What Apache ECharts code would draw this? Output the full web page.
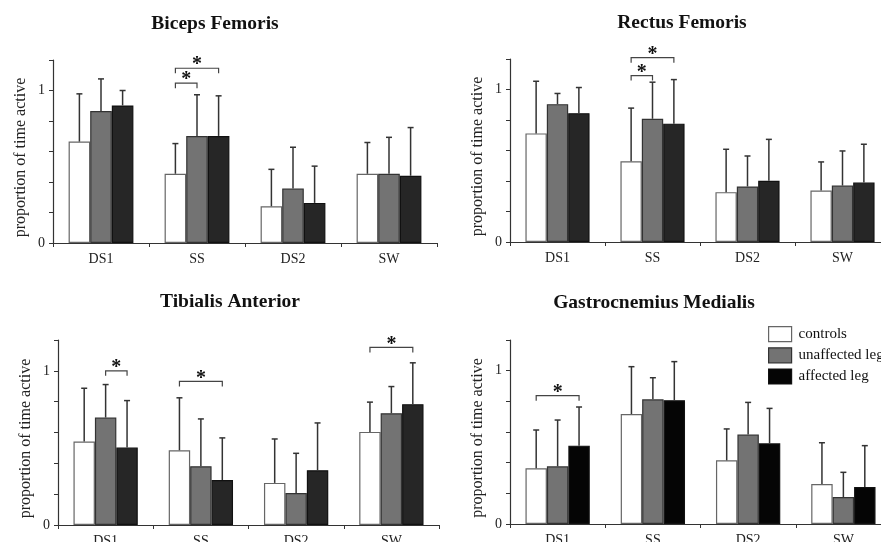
<!DOCTYPE html>
<html><head><meta charset="utf-8">
<script src="https://cdn.jsdelivr.net/npm/echarts@6/dist/echarts.min.js"></script>
<style>html,body{margin:0;padding:0;background:#fff}#c{width:881px;height:542px}</style>
</head><body><div id="c"></div>
<script>
const categories = ['DS1', 'SS', 'DS2', 'SW'];
const groupNames = ['controls', 'unaffected leg', 'affected leg'];
const panelTitles = ['Biceps Femoris', 'Rectus Femoris', 'Tibialis Anterior', 'Gastrocnemius Medialis'];
const yAxisTitle = 'proportion of time active';
const yTickLabels = ['0', '1'];

// Biceps Femoris: means and upper SD
const bfControls = [0.665, 0.454, 0.241, 0.454];
const bfUnaffected = [0.865, 0.702, 0.357, 0.454];
const bfAffected = [0.902, 0.702, 0.263, 0.441];
const bfControlsSD = [0.313, 0.198, 0.242, 0.205];
const bfUnaffectedSD = [0.211, 0.270, 0.271, 0.239];
const bfAffectedSD = [0.098, 0.263, 0.241, 0.316];
// Rectus Femoris
const rfControls = [0.712, 0.529, 0.327, 0.338];
const rfUnaffected = [0.904, 0.808, 0.364, 0.370];
const rfAffected = [0.845, 0.776, 0.401, 0.390];
const rfControlsSD = [0.342, 0.349, 0.281, 0.187];
const rfUnaffectedSD = [0.070, 0.240, 0.200, 0.227];
const rfAffectedSD = [0.168, 0.289, 0.272, 0.251];
// Tibialis Anterior
const taControls = [0.541, 0.485, 0.273, 0.604];
const taUnaffected = [0.697, 0.381, 0.208, 0.725];
const taAffected = [0.502, 0.292, 0.355, 0.784];
const taControlsSD = [0.346, 0.340, 0.285, 0.193];
const taUnaffectedSD = [0.214, 0.307, 0.257, 0.173];
const taAffectedSD = [0.305, 0.273, 0.307, 0.268];
// Gastrocnemius Medialis
const gmControls = [0.363, 0.717, 0.415, 0.261];
const gmUnaffected = [0.376, 0.813, 0.583, 0.176];
const gmAffected = [0.511, 0.807, 0.526, 0.241];
const gmControlsSD = [0.250, 0.309, 0.205, 0.269];
const gmUnaffectedSD = [0.302, 0.141, 0.210, 0.161];
const gmAffectedSD = [0.252, 0.252, 0.228, 0.270];

// significance brackets: [category index, from group, to group, bracket height]
const bfBrackets = [[1, 0, 1, 1.048], [1, 0, 2, 1.146]];
const rfBrackets = [[1, 0, 1, 1.091], [1, 0, 2, 1.209]];
const taBrackets = [[0, 1, 2, 1.0], [1, 0, 2, 0.931], [3, 0, 2, 1.152]];
const gmBrackets = [[0, 0, 2, 0.837]];

const panels = [
  {means: [bfControls, bfUnaffected, bfAffected], sds: [bfControlsSD, bfUnaffectedSD, bfAffectedSD], brackets: bfBrackets},
  {means: [rfControls, rfUnaffected, rfAffected], sds: [rfControlsSD, rfUnaffectedSD, rfAffectedSD], brackets: rfBrackets},
  {means: [taControls, taUnaffected, taAffected], sds: [taControlsSD, taUnaffectedSD, taAffectedSD], brackets: taBrackets},
  {means: [gmControls, gmUnaffected, gmAffected], sds: [gmControlsSD, gmUnaffectedSD, gmAffectedSD], brackets: gmBrackets}
];

const FONT = 'Liberation Serif';
const grids = [
  {left: 53, top: 60, width: 384, height: 183},
  {left: 510, top: 59, width: 380, height: 183},
  {left: 58, top: 340, width: 381, height: 185},
  {left: 510, top: 340, width: 381, height: 184}
];
const titlePos = [[215, 14], [682, 13], [230, 292], [654, 293]];
const barColors = [
  ['#ffffff', '#737373', '#262626'],
  ['#ffffff', '#737373', '#262626'],
  ['#ffffff', '#737373', '#262626'],
  ['#ffffff', '#737373', '#050505']
];
const barBorders = ['#666666', '#333333', '#111111'];
const BAR_FRAC = 0.225;

const option = {
  backgroundColor: '#fff',
  animation: false,
  title: panelTitles.map((t, i) => ({
    text: t, left: titlePos[i][0], top: titlePos[i][1], textAlign: 'center', padding: 0,
    textStyle: {fontFamily: FONT, fontWeight: 'bold', fontSize: 19.5, color: '#111'}
  })),
  grid: grids.map(g => Object.assign({containLabel: false, outerBoundsMode: 'none'}, g)),
  legend: {
    orient: 'vertical', left: 768, top: 326, itemWidth: 23, itemHeight: 15, itemGap: 5, padding: 0,
    icon: 'rect',
    textStyle: {fontFamily: FONT, fontSize: 15, color: '#111', padding: [0, 0, 0, 2]},
    data: groupNames.map((n, k) => ({name: n, itemStyle: {color: barColors[3][k], borderColor: barBorders[k], borderWidth: 1.2}}))
  },
  xAxis: grids.map((g, i) => ({
    type: 'category', gridIndex: i, data: categories,
    axisLine: {lineStyle: {color: '#333', width: 1.2}},
    axisTick: {show: true, length: 4, lineStyle: {color: '#333'}},
    axisLabel: {fontFamily: FONT, fontSize: 14, color: '#222', margin: 9}
  })),
  yAxis: grids.map((g, i) => ({
    type: 'value', gridIndex: i, min: 0, max: 1.2, interval: 0.2,
    name: yAxisTitle, nameLocation: 'middle', nameGap: 24,
    nameTextStyle: {fontFamily: FONT, fontSize: 16, color: '#222', padding: [0, 12, 0, 0]},
    splitLine: {show: false},
    axisLine: {show: true, lineStyle: {color: '#333', width: 1.2}},
    axisTick: {show: true, length: 4, lineStyle: {color: '#333'}},
    axisLabel: {fontFamily: FONT, fontSize: 14, color: '#222', margin: 8,
      formatter: v => (Math.abs(v) < 1e-9 ? yTickLabels[0] : (Math.abs(v - 1) < 1e-9 ? yTickLabels[1] : ''))}
  })),
  series: []
};

panels.forEach((p, i) => {
  for (let k = 0; k < 3; k++) {
    option.series.push({
      type: 'bar', name: groupNames[k], xAxisIndex: i, yAxisIndex: i,
      data: p.means[k], barWidth: (BAR_FRAC * 100) + '%', barGap: '0%',
      itemStyle: {color: barColors[i][k], borderColor: barBorders[k], borderWidth: 1.2},
      z: 2
    });
  }
  const errData = [];
  for (let k = 0; k < 3; k++) {
    for (let c = 0; c < categories.length; c++) errData.push([c, p.means[k][c], p.sds[k][c], k]);
  }
  option.series.push({
    type: 'custom', xAxisIndex: i, yAxisIndex: i, z: 3, silent: true,
    encode: {x: 0, y: 1},
    data: errData,
    renderItem: (params, api) => {
      const c = api.value(0), m = api.value(1), sd = api.value(2), k = api.value(3);
      const band = api.size([1, 0])[0];
      const bw = band * BAR_FRAC;
      const x = api.coord([c, 0])[0] + (k - 1) * bw;
      const yb = api.coord([c, m])[1];
      const yt = api.coord([c, m + sd])[1];
      const st = {stroke: '#333', lineWidth: 1.5};
      return {type: 'group', children: [
        {type: 'line', shape: {x1: x, y1: yb, x2: x, y2: yt}, style: st},
        {type: 'line', shape: {x1: x - 3, y1: yt, x2: x + 3, y2: yt}, style: st}
      ]};
    }
  });
  option.series.push({
    type: 'custom', xAxisIndex: i, yAxisIndex: i, z: 4, silent: true, clip: false,
    encode: {x: 0, y: 3},
    data: p.brackets,
    renderItem: (params, api) => {
      const c = api.value(0), a = api.value(1), b = api.value(2), h = api.value(3);
      const band = api.size([1, 0])[0];
      const bw = band * BAR_FRAC;
      const cx = api.coord([c, 0])[0];
      const x1 = cx + (a - 1) * bw, x2 = cx + (b - 1) * bw;
      const y = api.coord([c, h])[1];
      return {type: 'group', children: [
        {type: 'polyline', shape: {points: [[x1, y + 5], [x1, y], [x2, y], [x2, y + 5]]},
          style: {stroke: '#444', lineWidth: 1.2, fill: null}},
        {type: 'text', style: {text: '*', x: (x1 + x2) / 2, y: y - 3, align: 'center', verticalAlign: 'middle',
          font: 'bold 20px "Liberation Serif"', fill: '#111'}}
      ]};
    }
  });
});

const chart = echarts.init(document.getElementById('c'), null, {renderer: 'canvas'});
chart.setOption(option);
</script>
</body></html>
